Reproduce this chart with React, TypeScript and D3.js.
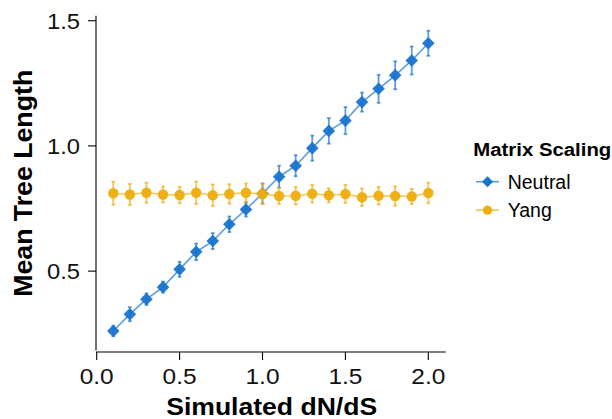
import React from "react";
import * as d3 from "d3";

const dnds = [0.1, 0.2, 0.3, 0.4, 0.5, 0.6, 0.7, 0.8, 0.9, 1.0, 1.1, 1.2, 1.3, 1.4, 1.5, 1.6, 1.7, 1.8, 1.9, 2.0];
const neutralMean = [0.261, 0.328, 0.388, 0.436, 0.507, 0.577, 0.62, 0.687, 0.746, 0.81, 0.877, 0.921, 0.991, 1.06, 1.101, 1.175, 1.228, 1.282, 1.341, 1.41];
const neutralErr = [0.021, 0.028, 0.023, 0.022, 0.03, 0.033, 0.032, 0.031, 0.028, 0.04, 0.044, 0.042, 0.05, 0.051, 0.054, 0.038, 0.056, 0.056, 0.056, 0.05];
const yangMean = [0.811, 0.806, 0.813, 0.806, 0.804, 0.813, 0.803, 0.808, 0.813, 0.808, 0.8, 0.801, 0.809, 0.803, 0.808, 0.795, 0.801, 0.8, 0.798, 0.812];
const yangErr = [0.046, 0.042, 0.04, 0.032, 0.033, 0.045, 0.043, 0.039, 0.037, 0.04, 0.032, 0.035, 0.035, 0.028, 0.036, 0.035, 0.035, 0.039, 0.03, 0.041];
const xTicks = [0, 0.5, 1.0, 1.5, 2.0];
const yTicks = [0.5, 1.0, 1.5];
const seriesNames = ["Neutral", "Yang"];
const seriesColors = ["#1874CD", "#EEAD0E"];

const FONT = "'Liberation Sans', Arial, Helvetica, sans-serif";

export default function App() {
  const x = d3.scaleLinear().domain([0, 2.1]).range([96.7, 444.9]);
  const y = d3.scaleLinear().domain([0.185, 1.52]).range([350, 15.7]);
  const line = d3
    .line<[number, number]>()
    .x((d) => x(d[0]))
    .y((d) => y(d[1]));

  const series = [
    { name: seriesNames[0], color: seriesColors[0], mean: neutralMean, err: neutralErr, shape: "diamond" },
    { name: seriesNames[1], color: seriesColors[1], mean: yangMean, err: yangErr, shape: "circle" },
  ];

  const diamond = (cx: number, cy: number, r: number) =>
    `M${cx},${cy - r}L${cx + r},${cy}L${cx},${cy + r}L${cx - r},${cy}Z`;

  return (
    <svg width={612} height={419} style={{ position: "absolute", left: 0, top: 0 }} fontFamily={FONT}>
      <rect width={612} height={419} fill="white" />
      {series.map((s) => (
        <g key={s.name}>
          <path
            d={line(dnds.map((v, i) => [v, s.mean[i]]) as [number, number][]) || ""}
            fill="none"
            stroke={s.color}
            strokeOpacity={0.7}
            strokeWidth={1.6}
          />
          {dnds.map((v, i) => (
            <g key={i} stroke={s.color} strokeOpacity={0.7} strokeWidth={1.8}>
              <line x1={x(v)} x2={x(v)} y1={y(s.mean[i] - s.err[i])} y2={y(s.mean[i] + s.err[i])} />
              <line x1={x(v) - 1.8} x2={x(v) + 1.8} y1={y(s.mean[i] - s.err[i])} y2={y(s.mean[i] - s.err[i])} />
              <line x1={x(v) - 1.8} x2={x(v) + 1.8} y1={y(s.mean[i] + s.err[i])} y2={y(s.mean[i] + s.err[i])} />
            </g>
          ))}
          {dnds.map((v, i) =>
            s.shape === "diamond" ? (
              <path key={"m" + i} d={diamond(x(v), y(s.mean[i]), 6.3)} fill={s.color} fillOpacity={0.95} />
            ) : (
              <circle key={"m" + i} cx={x(v)} cy={y(s.mean[i])} r={5.2} fill={s.color} fillOpacity={0.95} />
            )
          )}
        </g>
      ))}
      <line x1={96} x2={96} y1={15.7} y2={350.5} stroke="black" strokeWidth={1.1} />
      <line x1={96} x2={445.7} y1={352} y2={352} stroke="black" strokeWidth={1.1} />
      {yTicks.map((t) => (
        <g key={"y" + t}>
          <line x1={88} x2={96} y1={y(t)} y2={y(t)} stroke="black" strokeWidth={1.1} />
          <text x={80} y={y(t) + 8} textAnchor="end" fontSize={22} textLength={33} lengthAdjust="spacingAndGlyphs" fill="#111">
            {t.toFixed(1)}
          </text>
        </g>
      ))}
      {xTicks.map((t) => (
        <g key={"x" + t}>
          <line x1={x(t)} x2={x(t)} y1={352} y2={360} stroke="black" strokeWidth={1.1} />
          <text x={x(t)} y={384} textAnchor="middle" fontSize={22} textLength={34} lengthAdjust="spacingAndGlyphs" fill="#111">
            {t.toFixed(1)}
          </text>
        </g>
      ))}
      <text x={271.7} y={415} textAnchor="middle" fontSize={24} fontWeight="bold" textLength={211} lengthAdjust="spacingAndGlyphs">
        Simulated dN/dS
      </text>
      <text
        transform={`translate(31.5,183.3) rotate(-90)`}
        textAnchor="middle"
        fontSize={25}
        fontWeight="bold"
        textLength={227}
        lengthAdjust="spacingAndGlyphs"
      >
        Mean Tree Length
      </text>
      <text x={473.3} y={156} fontSize={18} fontWeight="bold" textLength={138} lengthAdjust="spacingAndGlyphs">
        Matrix Scaling
      </text>
      {series.map((s, i) => {
        const cy = 181.7 + i * 28.5;
        return (
          <g key={"leg" + i}>
            <line x1={476} x2={499} y1={cy} y2={cy} stroke={s.color} strokeOpacity={0.7} strokeWidth={1.6} />
            {s.shape === "diamond" ? (
              <path d={diamond(487.5, cy, 5.5)} fill={s.color} />
            ) : (
              <circle cx={487.5} cy={cy} r={4.6} fill={s.color} />
            )}
            <text x={507.7} y={cy + 7} fontSize={19.5}>
              {s.name}
            </text>
          </g>
        );
      })}
    </svg>
  );
}
